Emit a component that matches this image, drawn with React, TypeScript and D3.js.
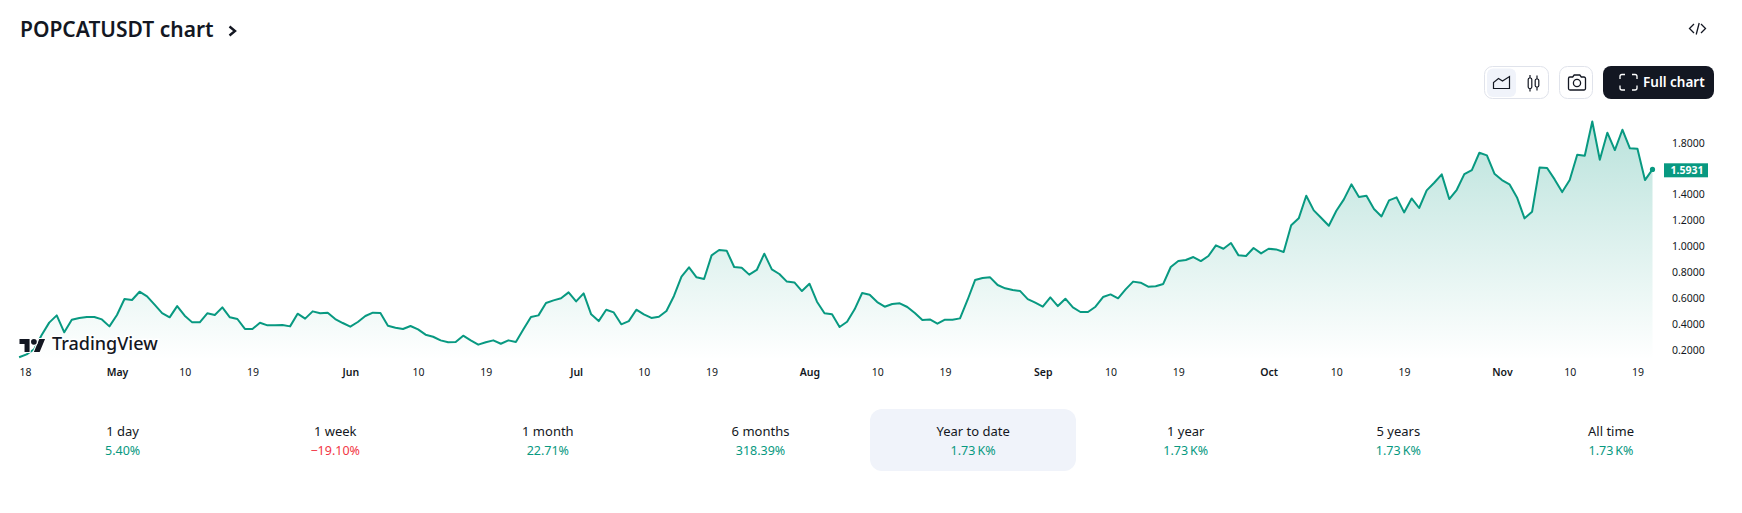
import { useEffect, useRef } from "react"
import * as d3 from "d3"

// daily closes, one list per month
const aprCloses = [0.141, 0.164, 0.203, 0.313, 0.409, 0.465, 0.334, 0.432, 0.445, 0.452, 0.452, 0.434, 0.38]
const mayCloses = [0.468, 0.592, 0.584, 0.648, 0.612, 0.548, 0.483, 0.45, 0.537, 0.463, 0.411, 0.411, 0.481, 0.468, 0.527, 0.45, 0.437, 0.36, 0.36, 0.408, 0.388, 0.388, 0.391, 0.38, 0.478, 0.44, 0.496, 0.481, 0.486, 0.437, 0.406]
const junCloses = [0.378, 0.414, 0.46, 0.486, 0.483, 0.385, 0.37, 0.36, 0.383, 0.357, 0.316, 0.3, 0.272, 0.257, 0.259, 0.308, 0.272, 0.239, 0.257, 0.272, 0.246, 0.272, 0.259, 0.357, 0.452, 0.465, 0.561, 0.581, 0.597, 0.643]
const julCloses = [0.573, 0.635, 0.473, 0.421, 0.509, 0.488, 0.396, 0.421, 0.509, 0.473, 0.445, 0.455, 0.499, 0.615, 0.764, 0.836, 0.759, 0.746, 0.929, 0.97, 0.965, 0.839, 0.834, 0.78, 0.816, 0.942, 0.821, 0.785, 0.726, 0.72, 0.653]
const augCloses = [0.71, 0.571, 0.481, 0.473, 0.375, 0.416, 0.512, 0.638, 0.625, 0.568, 0.532, 0.553, 0.558, 0.53, 0.483, 0.429, 0.434, 0.401, 0.432, 0.432, 0.442, 0.584, 0.738, 0.754, 0.759, 0.7, 0.674, 0.661, 0.653, 0.591, 0.563]
const sepCloses = [0.532, 0.604, 0.537, 0.594, 0.527, 0.491, 0.491, 0.532, 0.607, 0.627, 0.597, 0.666, 0.726, 0.718, 0.687, 0.69, 0.708, 0.839, 0.885, 0.893, 0.916, 0.885, 0.924, 1.006, 0.98, 1.024, 0.929, 0.924, 0.986, 0.944]
const octCloses = [0.98, 0.975, 0.955, 1.161, 1.215, 1.39, 1.277, 1.218, 1.158, 1.274, 1.362, 1.478, 1.38, 1.39, 1.287, 1.23, 1.354, 1.377, 1.261, 1.369, 1.295, 1.431, 1.49, 1.555, 1.364, 1.436, 1.557, 1.588, 1.722, 1.702, 1.56]
const novCloses = [1.511, 1.478, 1.377, 1.215, 1.266, 1.609, 1.604, 1.516, 1.418, 1.511, 1.707, 1.699, 1.964, 1.668, 1.877, 1.743, 1.9, 1.756, 1.753, 1.511, 1.5931]

const closes = [...aprCloses, ...mayCloses, ...junCloses, ...julCloses, ...augCloses, ...sepCloses, ...octCloses, ...novCloses]

const priceTicks = [0.2, 0.4, 0.6, 0.8, 1.0, 1.2, 1.4, 1.6, 1.8]
const dateTicks = [
  "2024-04-18", "2024-05-01", "2024-05-10", "2024-05-19", "2024-06-01", "2024-06-10", "2024-06-19",
  "2024-07-01", "2024-07-10", "2024-07-19", "2024-08-01", "2024-08-10", "2024-08-19", "2024-09-01",
  "2024-09-10", "2024-09-19", "2024-10-01", "2024-10-10", "2024-10-19", "2024-11-01", "2024-11-10", "2024-11-19",
]
const periodLabels = ["1 day", "1 week", "1 month", "6 months", "Year to date", "1 year", "5 years", "All time"]
const periodChanges = ["5.40%", "\u221219.10%", "22.71%", "318.39%", "1.73\u2009K%", "1.73\u2009K%", "1.73\u2009K%", "1.73\u2009K%"]

const GREEN = "#089981"
const RED = "#f23645"
const INK = "#131722"
const FONT = "'Noto Sans', sans-serif"

const width = 1742
const height = 513
const paneBottom = 360

const startDate = new Date(Date.UTC(2024, 3, 18))
const dates = closes.map((_, i) => d3.utcDay.offset(startDate, i))
const parseDay = d3.utcParse("%Y-%m-%d")

const x = d3.scaleUtc().domain([dates[0], dates[dates.length - 1]]).range([19.1, 1652.5])
const y = d3.scaleLinear().domain([0.2, 1.8]).range([349.67, 142.67])
const periodX = d3.scaleLinear().domain([0, 7]).range([122.6, 1611])

const points = closes.map((c, i) => ({ date: dates[i], close: c }))
const linePath = d3.line<any>().x((d) => x(d.date)).y((d) => y(d.close))(points) as string
const areaPath = d3.area<any>().x((d) => x(d.date)).y0(paneBottom).y1((d) => y(d.close))(points) as string

const lastClose = closes[closes.length - 1]
const lastDate = dates[dates.length - 1]

export default function App() {
  const xAxisRef = useRef<SVGGElement>(null)
  const yAxisRef = useRef<SVGGElement>(null)

  useEffect(() => {
    const monthFmt = d3.utcFormat("%b")
    const xAxis = d3
      .axisBottom(x)
      .tickValues(dateTicks.map((d) => parseDay(d) as Date))
      .tickSize(0)
      .tickPadding(0)
      .tickFormat((d: any) => (d.getUTCDate() === 1 ? monthFmt(d) : String(d.getUTCDate())))
    const gx = d3.select(xAxisRef.current as SVGGElement).call(xAxis as any)
    gx.select(".domain").remove()
    gx.selectAll("text")
      .attr("dy", null)
      .attr("y", 0)
      .attr("font-family", FONT)
      .attr("font-size", 10.5)
      .attr("font-weight", (d: any) => (d.getUTCDate() === 1 ? 600 : 400))
      .attr("fill", INK)
    gx.selectAll<SVGTextElement, Date>("text")
      .filter((d) => d.getTime() === startDate.getTime())
      .attr("text-anchor", "start")

    const yAxis = d3
      .axisRight(y)
      .tickValues(priceTicks)
      .tickSize(0)
      .tickPadding(0)
      .tickFormat((d: any) => d.toFixed(4))
    const gy = d3.select(yAxisRef.current as SVGGElement).call(yAxis as any)
    gy.select(".domain").remove()
    gy.selectAll("text")
      .attr("font-family", FONT)
      .attr("font-size", 10.5)
      .attr("fill", INK)
  }, [])

  return (
    <svg width={width} height={height} style={{ position: "absolute", left: 0, top: 0, background: "#fff" }}>
      <defs>
        <linearGradient id="areaFill" gradientUnits="userSpaceOnUse" x1="0" x2="0" y1={y(1.964)} y2={paneBottom}>
          <stop offset="0" stopColor={GREEN} stopOpacity={0.28} />
          <stop offset="1" stopColor={GREEN} stopOpacity={0} />
        </linearGradient>
      </defs>

      {/* header */}
      <text x={20} y={36.5} fontFamily={FONT} fontSize={21} fontWeight={600} fill={INK}>POPCATUSDT chart</text>
      <path d="M229.5 26.5l5.5 4.5-5.5 4.5" fill="none" stroke={INK} strokeWidth={2.4} />
      <g fill="none" stroke={INK} strokeWidth={1.3}>
        <path d="M1694 24l-4.5 4.5 4.5 4.5M1701 24l4.5 4.5-4.5 4.5M1699.2 23l-3 11.5" />
      </g>

      {/* chart type buttons */}
      <rect x={1484.5} y={66.5} width={64} height={32} rx={8} fill="#fff" stroke="#e0e3eb" />
      <rect x={1487} y={68.5} width={29} height={28.5} rx={6} fill="#f0f3fa" />
      <path d="M1493.5 88.5v-6l5-4 4 2.5 7-4.5v12z" fill="none" stroke={INK} strokeWidth={1.2} />
      <g fill="none" stroke={INK} strokeWidth={1.2}>
        <rect x={1528.2} y={78} width={3.6} height={10.5} rx={1.5} />
        <path d="M1530 75v3M1530 88.5v3M1537 75.5v3.5M1537 87v3.5" />
        <rect x={1535.2} y={79} width={3.6} height={8} rx={1.5} />
      </g>
      <rect x={1559.5} y={66.5} width={33} height={32} rx={8} fill="#fff" stroke="#e0e3eb" />
      <g fill="none" stroke={INK} strokeWidth={1.3}>
        <path d="M1568.5 78.5a1.5 1.5 0 0 1 1.5-1.5h2.7l1.5-2h5.6l1.5 2h2.7a1.5 1.5 0 0 1 1.5 1.5v10a1.5 1.5 0 0 1-1.5 1.5h-14a1.5 1.5 0 0 1-1.5-1.5z" />
        <circle cx={1577} cy={83} r={3.6} />
      </g>
      <rect x={1603} y={66} width={111} height={33} rx={8} fill={INK} />
      <path
        d="M1625 74.5h-3a2 2 0 0 0-2 2v2.5M1632 74.5h3a2 2 0 0 1 2 2v2.5M1625 90h-3a2 2 0 0 1-2-2v-2.5M1632 90h3a2 2 0 0 0 2-2v-2.5"
        fill="none" stroke="#fff" strokeWidth={1.3}
      />
      <text x={1643} y={87} fontFamily={FONT} fontSize={13.5} fontWeight={600} fill="#fff">Full chart</text>

      {/* price series */}
      <path d={areaPath} fill="url(#areaFill)" />
      <path d={linePath} fill="none" stroke={GREEN} strokeWidth={2} strokeLinejoin="round" />
      <circle cx={x(lastDate)} cy={y(lastClose)} r={2.6} fill={GREEN} />

      {/* logo */}
      <g transform="translate(19.5,332.5) scale(0.72)" stroke="#fff" strokeWidth={3} style={{ paintOrder: "stroke" }} fill={INK}>
        <path d="M14 27H7V16H0V9h14v18zM28 27h-8l7.5-18h8L28 27z" />
        <circle cx={20} cy={13} r={4} />
      </g>
      <text x={52} y={350} fontFamily={FONT} fontSize={18} fontWeight={500} fill={INK} stroke="#fff" strokeWidth={3} style={{ paintOrder: "stroke" }}>TradingView</text>

      {/* axes */}
      <g ref={xAxisRef} transform="translate(0,376)" />
      <g ref={yAxisRef} transform="translate(1672,0)" />

      <rect x={1664} y={163.3} width={44} height={14} fill={GREEN} />
      <text x={1687} y={174} textAnchor="middle" fontFamily={FONT} fontSize={10.5} fontWeight={700} fill="#fff">{lastClose.toFixed(4)}</text>

      {/* performance row */}
      <rect x={870} y={409} width={206} height={62} rx={12} fill="#f0f3fa" />
      {periodLabels.map((label, i) => (
        <g key={label} fontFamily={FONT} textAnchor="middle">
          <text x={periodX(i)} y={435.5} fontSize={13} fill={INK}>{label}</text>
          <text x={periodX(i)} y={455} fontSize={12.5} fill={periodChanges[i].startsWith("\u2212") ? RED : GREEN}>{periodChanges[i]}</text>
        </g>
      ))}
    </svg>
  )
}
